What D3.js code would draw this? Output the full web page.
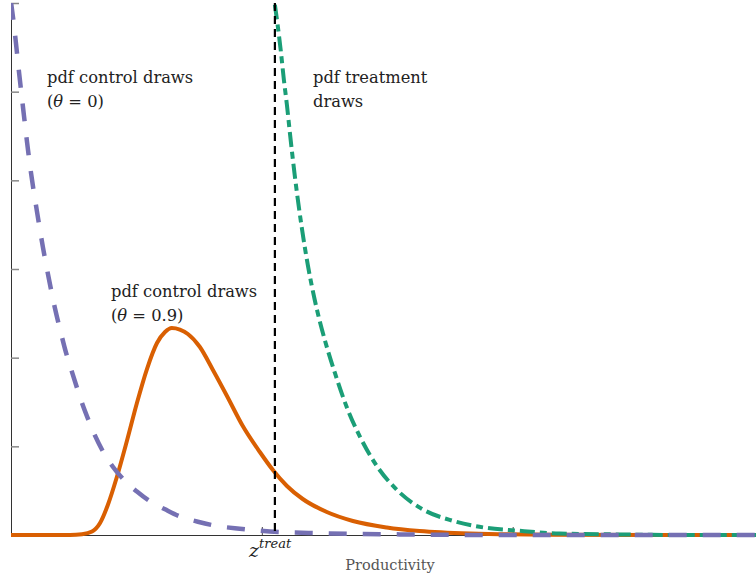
<!DOCTYPE html>
<html>
<head>
<meta charset="utf-8">
<script src="https://cdn.jsdelivr.net/npm/d3@7"></script>
<style>
  body { margin: 0; background: #fff; }
  text { font-family: "DejaVu Serif", serif; }
</style>
</head>
<body>
<div id="chart"></div>
<script>
// productivity (x) in units of the axis ticks, density (y) in units of the y ticks
var ctrl0X = [0, 0.008, 0.02, 0.032, 0.048, 0.064, 0.08, 0.104, 0.127, 0.151, 0.175, 0.199, 0.219, 0.243, 0.263, 0.283, 0.307, 0.335, 0.367, 0.406, 0.454, 0.502, 0.554, 0.614, 0.673, 0.745, 0.805, 0.912, 1.032, 1.231, 1.55, 1.948, 2.97];
var ctrl0Y = [6.01, 5.84, 5.54, 5.22, 4.82, 4.43, 4.08, 3.64, 3.25, 2.89, 2.56, 2.28, 2.06, 1.84, 1.66, 1.49, 1.31, 1.12, 0.94, 0.77, 0.61, 0.49, 0.38, 0.29, 0.21, 0.15, 0.11, 0.07, 0.04, 0.02, 0.007, 0, 0];

var ctrl9X = [0, 0.235, 0.283, 0.323, 0.355, 0.386, 0.422, 0.462, 0.502, 0.542, 0.582, 0.614, 0.641, 0.673, 0.705, 0.753, 0.805, 0.861, 0.924, 0.992, 1.044, 1.1, 1.163, 1.259, 1.363, 1.498, 1.629, 1.829, 2.147, 2.546, 2.97];
var ctrl9Y = [0, 0, 0.008, 0.039, 0.135, 0.338, 0.654, 1.06, 1.489, 1.872, 2.165, 2.289, 2.334, 2.317, 2.267, 2.12, 1.861, 1.568, 1.229, 0.936, 0.733, 0.553, 0.406, 0.259, 0.158, 0.085, 0.045, 0.017, 0.003, 0, 0];

var treatX = [1.052, 1.064, 1.076, 1.088, 1.1, 1.112, 1.131, 1.159, 1.183, 1.211, 1.251, 1.291, 1.343, 1.391, 1.458, 1.538, 1.641, 1.761, 1.896, 2.016, 2.187, 2.426, 2.745, 2.97];
var treatY = [5.98, 5.73, 5.45, 5.13, 4.85, 4.53, 4.06, 3.47, 3.05, 2.65, 2.2, 1.83, 1.41, 1.11, 0.78, 0.51, 0.29, 0.16, 0.08, 0.05, 0.017, 0.006, 0, 0];

var zTreat = 1.052;
var xTicks = [1, 2];
var yTicks = [0, 1, 2, 3, 4, 5, 6];

var width = 756, height = 581;
var svg = d3.select("#chart").append("svg").attr("width", width).attr("height", height);

var x = d3.scaleLinear().domain([0, 2.97]).range([11, 756]);
var y = d3.scaleLinear().domain([0, 6]).range([535, 3]);

svg.append("clipPath").attr("id", "plot")
  .append("rect").attr("x", 11).attr("y", 3).attr("width", 745).attr("height", 535);

// axes, ticks pointing inward, no labels
var yAx = svg.append("g").attr("transform", "translate(11,0)")
  .call(d3.axisRight(y).tickValues(yTicks).tickSize(8).tickSizeOuter(0).tickFormat(""));
yAx.select(".domain").attr("stroke", "#333");
yAx.selectAll(".tick line").attr("stroke", "#888").attr("stroke-width", 1.5);

var xAx = svg.append("g").attr("transform", "translate(0,535)")
  .call(d3.axisTop(x).tickValues(xTicks).tickSize(8).tickSizeOuter(0).tickFormat(""));
xAx.select(".domain").attr("stroke", "#333");
xAx.selectAll(".tick line").attr("stroke", "#444");

function pts(xs, ys) {
  return xs.map(function(v, i) { return [v, ys[i]]; });
}

var line = d3.line()
  .x(function(d) { return x(d[0]); })
  .y(function(d) { return y(d[1]); })
  .curve(d3.curveMonotoneX);

var plot = svg.append("g").attr("clip-path", "url(#plot)");

plot.append("path").datum(pts(ctrl9X, ctrl9Y))
  .attr("d", line).attr("fill", "none")
  .attr("stroke", "#d95f02").attr("stroke-width", 4);

plot.append("path").datum(pts(treatX, treatY))
  .attr("d", line).attr("fill", "none")
  .attr("stroke", "#1b9e77").attr("stroke-width", 4)
  .attr("stroke-dasharray", "15,5,7,5");

plot.append("path").datum(pts(ctrl0X, ctrl0Y))
  .attr("d", line).attr("fill", "none")
  .attr("stroke", "#7570b3").attr("stroke-width", 4.5)
  .attr("stroke-dasharray", "18,16");

// z treat marker
svg.append("line")
  .attr("x1", x(zTreat)).attr("x2", x(zTreat))
  .attr("y1", y(6)).attr("y2", y(0))
  .attr("stroke", "#000").attr("stroke-width", 2.2)
  .attr("stroke-dasharray", "8,5");

// labels
function label(lines, lx, ly) {
  var t = svg.append("text").attr("x", lx).attr("y", ly)
    .attr("font-size", 16.3).attr("fill", "#222");
  lines.forEach(function(l, i) {
    var ts = t.append("tspan").attr("x", lx).attr("dy", i ? 24 : 0);
    l.forEach(function(p) {
      ts.append("tspan").text(p[0]).attr("font-style", p[1] ? "italic" : null);
    });
  });
}

label([[["pdf control draws"]], [["("], ["θ", 1], [" = 0)"]]], 47, 83);
label([[["pdf treatment"]], [["draws"]]], 313, 83);
label([[["pdf control draws"]], [["("], ["θ", 1], [" = 0.9)"]]], 111, 297);

var zt = svg.append("text").attr("x", 249).attr("y", 557)
  .attr("font-size", 19).attr("font-style", "italic").attr("fill", "#222");
zt.append("tspan").text("z");
zt.append("tspan").text("treat").attr("font-size", 13).attr("dy", -9);

svg.append("text").attr("x", 390).attr("y", 570)
  .attr("text-anchor", "middle").attr("font-size", 14.5).attr("fill", "#555")
  .text("Productivity");
</script>
</body>
</html>
